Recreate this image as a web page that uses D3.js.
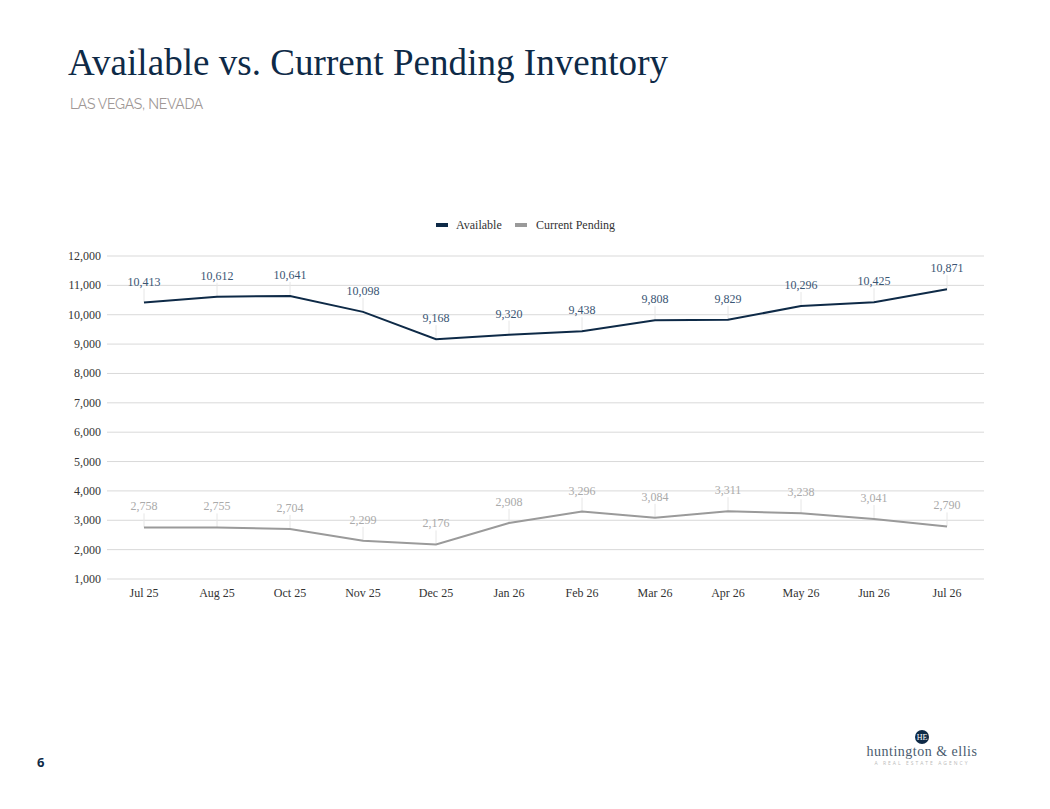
<!DOCTYPE html>
<html><head><meta charset="utf-8">
<script src="https://cdn.jsdelivr.net/npm/d3@7"></script>
<style>body{margin:0;background:#fff}</style></head>
<body><svg id="c" width="1050" height="809"></svg>
<script>
const categories=["Jul 25","Aug 25","Oct 25","Nov 25","Dec 25","Jan 26","Feb 26","Mar 26","Apr 26","May 26","Jun 26","Jul 26"];
const available=[10413,10612,10641,10098,9168,9320,9438,9808,9829,10296,10425,10871];
const pending=[2758,2755,2704,2299,2176,2908,3296,3084,3311,3238,3041,2790];
const yTicks=[1000,2000,3000,4000,5000,6000,7000,8000,9000,10000,11000,12000];
const serif="'Liberation Serif','DejaVu Serif',serif";
const svg=d3.select("#c");
svg.append("text").attr("x",68).attr("y",75).attr("font-family",serif).attr("font-size",37).attr("fill","#0e2a47").attr("textLength",600).text("Available vs. Current Pending Inventory");
svg.append("text").attr("x",70).attr("y",109).attr("font-family","Raleway,'Open Sans',sans-serif").attr("font-size",14).attr("fill","#a09896").attr("letter-spacing","-0.3").text("LAS VEGAS, NEVADA");
svg.append("text").attr("x",37).attr("y",767).attr("font-family","'Open Sans',sans-serif").attr("font-weight","bold").attr("font-size",13).attr("fill","#0e2a47").text("6");
const x=d3.scaleBand().domain(categories).range([107.5,983.5]).padding(0);
const y=d3.scaleLinear().domain([1000,12000]).range([579,256]);
const g=svg.append("g");
g.selectAll("line.grid").data(yTicks).join("line").attr("x1",107).attr("x2",984).attr("y1",d=>y(d)).attr("y2",d=>y(d)).attr("stroke","#d9d9d9").attr("stroke-width",1);
g.selectAll("text.yt").data(yTicks).join("text").attr("x",101).attr("y",d=>y(d)+4).attr("text-anchor","end").attr("font-family",serif).attr("font-size",12).attr("fill","#333").text(d3.format(","));
g.selectAll("text.xt").data(categories).join("text").attr("x",d=>x(d)+x.bandwidth()/2).attr("y",597).attr("text-anchor","middle").attr("font-family",serif).attr("font-size",12).attr("fill","#333").text(d=>d);
const cx=d=>x(d)+x.bandwidth()/2;
function series(vals,color,lcolor){
  g.selectAll(null).data(vals).join("line").attr("x1",(d,i)=>cx(categories[i])).attr("x2",(d,i)=>cx(categories[i])).attr("y1",d=>y(d)).attr("y2",d=>y(d)-14).attr("stroke","#e6e6e6");
  g.append("path").datum(vals).attr("fill","none").attr("stroke",color).attr("stroke-width",2).attr("d",d3.line().x((d,i)=>cx(categories[i])).y(d=>y(d)));
  g.selectAll(null).data(vals).join("text").attr("x",(d,i)=>cx(categories[i])).attr("y",d=>y(d)-17).attr("text-anchor","middle").attr("font-family",serif).attr("font-size",12).attr("fill",lcolor).text(d3.format(","));
}
series(available,"#0e2a47","#3a5574");
series(pending,"#9a9a9a","#aaaaaa");
const lg=svg.append("g").attr("font-family",serif).attr("font-size",12).attr("fill","#333");
lg.append("rect").attr("x",436).attr("y",223).attr("width",12).attr("height",4).attr("fill","#0e2a47");
lg.append("text").attr("x",456).attr("y",229).text("Available");
lg.append("rect").attr("x",515).attr("y",223).attr("width",12).attr("height",4).attr("fill","#9a9a9a");
lg.append("text").attr("x",536).attr("y",229).text("Current Pending");
svg.append("circle").attr("cx",922).attr("cy",737).attr("r",7).attr("fill","#0e2a47");
svg.append("text").attr("x",922).attr("y",740).attr("text-anchor","middle").attr("font-family",serif).attr("font-size",8).attr("fill","#fff").text("HE");
svg.append("text").attr("x",922).attr("y",756).attr("text-anchor","middle").attr("font-family",serif).attr("font-size",14).attr("fill","#4a5b6e").attr("letter-spacing","0.5").text("huntington & ellis");
svg.append("text").attr("x",922).attr("y",765).attr("text-anchor","middle").attr("font-family","'Open Sans',sans-serif").attr("font-size",5).attr("fill","#bbb").attr("letter-spacing","2").text("A REAL ESTATE AGENCY");
</script></body></html>
